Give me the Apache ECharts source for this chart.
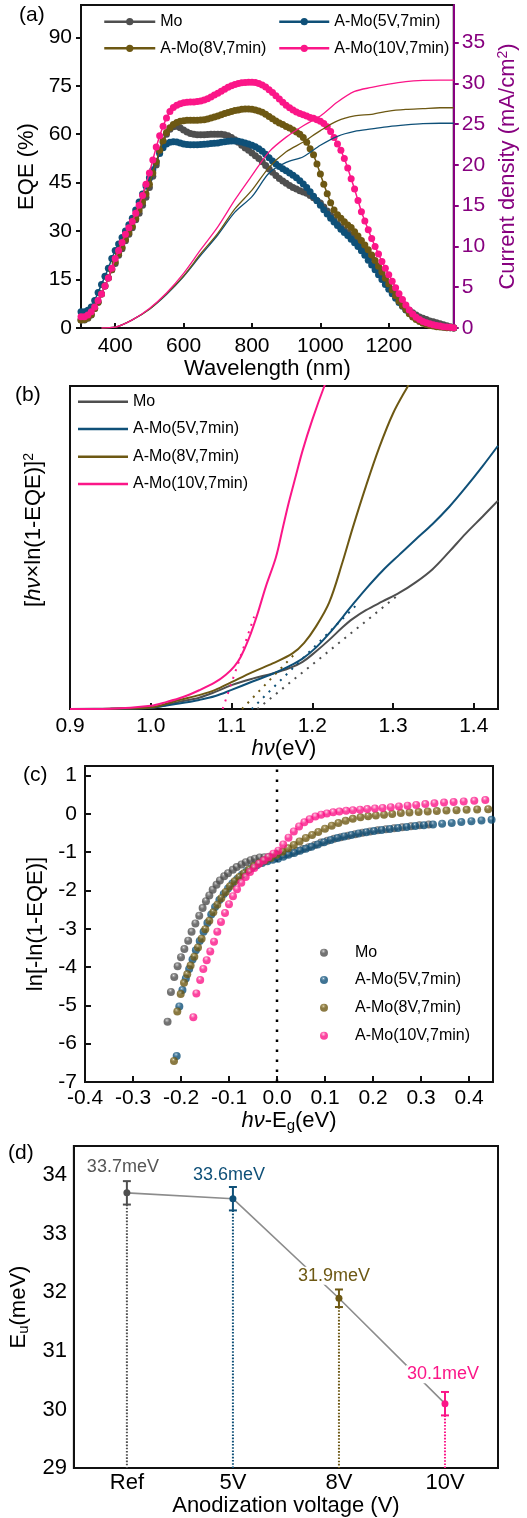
<!DOCTYPE html>
<html>
<head>
<meta charset="utf-8">
<script src="https://cdn.jsdelivr.net/npm/echarts@6/dist/echarts.min.js"></script>
<style>
  html, body { margin: 0; padding: 0; background: #ffffff; }
  #chart { width: 527px; height: 1518px; }
</style>
</head>
<body>
<div id="chart"></div>
<script>
// ---------- shared ----------
const FONT = '"Liberation Sans", Arial, Helvetica, sans-serif';
const sampleNames = ['Mo', 'A-Mo(5V,7min)', 'A-Mo(8V,7min)', 'A-Mo(10V,7min)'];
const sampleColors = ['#4f4f4f', '#0f5078', '#6d5813', '#fb1688'];
const ballHighlights = ['#9a9a9a', '#5f90b0', '#a89454', '#ff8cc4'];
const PURPLE = '#87017f';

// ---------- (a) EQE and integrated current density ----------
const wavelength = [
  300, 310, 320, 330, 340, 350, 360, 370, 380, 390,
  400, 410, 420, 430, 440, 450, 460, 470, 480, 490,
  500, 510, 520, 530, 540, 550, 560, 570, 580, 590,
  600, 610, 620, 630, 640, 650, 660, 670, 680, 690,
  700, 710, 720, 730, 740, 750, 760, 770, 780, 790,
  800, 810, 820, 830, 840, 850, 860, 870, 880, 890,
  900, 910, 920, 930, 940, 950, 960, 970, 980, 990,
  1000, 1010, 1020, 1030, 1040, 1050, 1060, 1070, 1080, 1090,
  1100, 1110, 1120, 1130, 1140, 1150, 1160, 1170, 1180, 1190,
  1200, 1210, 1220, 1230, 1240, 1250, 1260, 1270, 1280, 1290,
  1300, 1310, 1320, 1330, 1340, 1350, 1360, 1370, 1380, 1390
];
const eqeMo = [
  2.5, 2.5, 3.0, 4.0, 6.0, 8.0, 10.5, 13.0, 15.5, 18.0,
  20.0, 22.5, 24.5, 27.0, 29.0, 31.0, 33.5, 35.5, 38.0, 40.5,
  43.5, 47.0, 50.5, 54.5, 57.5, 60.0, 61.5, 62.3, 62.5, 62.0,
  61.3, 60.7, 60.2, 60.0, 59.8, 59.8, 59.8, 59.9, 60.0, 60.0,
  60.0, 60.0, 59.8, 59.5, 59.0, 58.3, 57.5, 56.6, 55.7, 55.0,
  54.2, 53.3, 52.5, 51.5, 50.3, 49.2, 48.2, 47.2, 46.3, 45.5,
  44.8, 44.1, 43.5, 43.0, 42.5, 42.1, 41.7, 41.0, 40.3, 39.5,
  38.7, 37.5, 36.2, 34.8, 33.4, 32.2, 31.2, 30.3, 29.5, 28.7,
  27.9, 26.9, 25.8, 24.5, 23.1, 21.6, 20.0, 18.4, 16.8, 15.2,
  13.6, 12.0, 10.5, 9.0, 7.7, 6.5, 5.5, 4.7, 4.0, 3.4,
  3.0, 2.6, 2.2, 1.9, 1.6, 1.3, 1.0, 0.7, 0.4, 0.1
];
const eqe5V = [
  5.0, 5.0, 5.5, 6.5, 8.5, 11.0, 13.5, 16.0, 18.5, 21.5,
  24.0, 26.0, 28.0, 30.0, 32.0, 34.0, 36.5, 39.0, 41.5, 44.0,
  46.5, 49.0, 51.5, 54.0, 55.8, 57.0, 57.5, 57.7, 57.6, 57.3,
  57.0, 56.8, 56.7, 56.7, 56.7, 56.8, 56.9, 57.0, 57.1, 57.2,
  57.3, 57.5, 57.7, 57.8, 57.9, 57.9, 57.8, 57.6, 57.3, 57.0,
  56.6, 56.1, 55.5, 54.7, 53.8, 52.7, 51.7, 50.8, 50.0, 49.3,
  48.7, 48.0, 47.3, 46.5, 45.6, 44.6, 43.5, 42.2, 40.8, 39.4,
  38.0, 36.6, 35.3, 34.0, 32.8, 31.7, 30.6, 29.6, 28.6, 27.5,
  26.4, 25.2, 23.9, 22.5, 21.0, 19.5, 18.0, 16.5, 15.0, 13.5,
  12.0, 10.6, 9.2, 7.9, 6.7, 5.6, 4.7, 3.8, 3.0, 2.4,
  1.9, 1.5, 1.2, 0.9, 0.7, 0.5, 0.3, 0.2, 0.1, 0.0
];
const eqe8V = [
  2.5, 2.6, 3.2, 4.2, 6.0, 8.0, 10.5, 13.0, 15.5, 18.0,
  20.5, 23.0, 25.0, 27.5, 29.5, 31.5, 34.0, 36.5, 39.0, 41.5,
  44.5, 48.0, 51.5, 55.0, 58.0, 60.5, 62.0, 63.0, 63.6, 64.0,
  64.2, 64.3, 64.3, 64.3, 64.3, 64.4, 64.5, 64.7, 65.0, 65.3,
  65.6, 66.0, 66.4, 66.7, 67.0, 67.3, 67.5, 67.7, 67.8, 67.8,
  67.7, 67.5, 67.2, 66.8, 66.2, 65.5, 64.8, 64.1, 63.5, 63.0,
  62.4, 61.9, 61.3, 60.7, 60.0, 59.0, 57.5, 55.5, 53.6, 50.8,
  47.7, 44.5, 41.6, 38.8, 36.5, 35.1, 34.0, 32.9, 31.9, 31.1,
  29.8, 28.5, 27.1, 25.7, 24.2, 22.6, 20.9, 19.1, 17.3, 15.4,
  13.6, 11.8, 10.0, 8.3, 7.0, 5.7, 4.4, 3.4, 2.6, 2.0,
  1.5, 1.1, 0.8, 0.6, 0.4, 0.3, 0.2, 0.1, 0.1, 0.0
];
const eqe10V = [
  3.5, 3.5, 4.0, 5.0, 6.5, 8.5, 10.5, 13.0, 15.5, 18.5,
  21.5, 24.0, 26.5, 29.0, 31.0, 33.0, 35.5, 38.0, 41.0, 44.5,
  48.0, 52.0, 56.0, 59.5, 62.5, 65.0, 67.0, 68.3, 69.0, 69.4,
  69.7, 69.9, 70.0, 70.0, 70.1, 70.3, 70.6, 71.0, 71.5, 72.1,
  72.7, 73.3, 73.9, 74.5, 75.0, 75.4, 75.7, 75.9, 76.0, 76.1,
  76.1, 76.0, 75.7, 75.2, 74.6, 73.8, 72.9, 71.9, 70.9, 69.9,
  69.0, 68.2, 67.5, 66.9, 66.4, 66.0, 65.6, 65.2, 64.9, 64.5,
  64.0, 63.3, 62.3, 60.8, 59.0, 57.0, 55.0, 52.5, 49.5, 46.2,
  43.0, 39.5, 36.0, 33.1, 30.4, 27.7, 25.2, 22.9, 20.6, 18.5,
  16.5, 14.5, 12.5, 10.6, 8.8, 7.1, 5.6, 4.3, 3.3, 2.6,
  2.0, 1.6, 1.3, 1.0, 0.8, 0.6, 0.4, 0.3, 0.2, 0.1
];
const jscWavelength = [360, 400, 450, 500, 550, 600, 650, 700, 750, 800, 850, 900, 950, 1000, 1050, 1100, 1150, 1200, 1250, 1300, 1350, 1390];
const jsc5V  = [0, 0.1, 1.0, 2.3, 4.1, 6.3, 8.9, 11.4, 14.2, 16.1, 19.0, 20.3, 21.0, 22.4, 23.5, 24.1, 24.4, 24.7, 24.9, 25.05, 25.1, 25.1];
const jsc8V  = [0, 0.1, 1.0, 2.3, 4.2, 6.4, 9.1, 11.6, 14.6, 16.9, 19.7, 21.6, 22.8, 24.2, 25.4, 26.0, 26.2, 26.6, 26.8, 26.9, 27.0, 27.0];
const jsc10V = [0, 0.1, 1.0, 2.4, 4.3, 6.7, 9.6, 12.4, 15.7, 18.7, 21.6, 23.4, 24.8, 26.0, 27.7, 29.0, 29.5, 29.9, 30.2, 30.35, 30.4, 30.4];
const wavelengthTicks = [400, 600, 800, 1000, 1200];
const eqeTicks = [0, 15, 30, 45, 60, 75, 90];
const jscTicks = [0, 5, 10, 15, 20, 25, 30, 35];

// ---------- (b) [hv ln(1-EQE)]^2 versus photon energy ----------
const taucMo = [[0.90, 0], [0.95, 0.1], [1.00, 0.4], [1.035, 2.2], [1.06, 3.5], [1.08, 5.3], [1.10, 7.4], [1.126, 9.4], [1.151, 11.0], [1.171, 12.6], [1.188, 14.6], [1.2045, 17.8], [1.221, 21.4], [1.2375, 25.3], [1.25, 27.9], [1.2665, 30.6], [1.287, 33.3], [1.308, 36.0], [1.328, 39.2], [1.349, 43.3], [1.37, 48.8], [1.39, 54.3], [1.411, 59.6], [1.43, 64.5]];
const tauc5V = [[0.90, 0], [0.95, 0.05], [1.00, 0.4], [1.035, 1.7], [1.06, 2.8], [1.08, 4.0], [1.10, 5.9], [1.126, 8.5], [1.151, 10.9], [1.171, 13.2], [1.188, 15.6], [1.2045, 19.0], [1.221, 23.4], [1.2375, 28.4], [1.25, 32.3], [1.2665, 37.2], [1.287, 42.8], [1.308, 47.8], [1.328, 52.5], [1.349, 57.3], [1.37, 62.7], [1.39, 68.6], [1.411, 75.2], [1.43, 81.5]];
const tauc8V = [[0.90, 0], [0.95, 0.1], [1.00, 0.5], [1.035, 2.8], [1.06, 4.3], [1.08, 5.9], [1.10, 8.3], [1.126, 11.4], [1.151, 14.1], [1.1755, 17.2], [1.19, 20.5], [1.2045, 25.5], [1.221, 33.0], [1.2375, 45.5], [1.25, 56.0], [1.2665, 69.0], [1.283, 81.0], [1.30, 91.5], [1.318, 99.8], [1.33, 105]];
const tauc10V = [[0.90, 0], [0.95, 0.1], [1.00, 1.0], [1.02, 2.2], [1.04, 3.7], [1.06, 5.8], [1.08, 8.3], [1.093, 10.6], [1.1035, 13.2], [1.1115, 16.2], [1.1218, 22.0], [1.132, 29.3], [1.1425, 37.9], [1.155, 47.0], [1.163, 55.5], [1.171, 64.0], [1.18, 72.5], [1.188, 80.0], [1.20, 89.5], [1.215, 100], [1.225, 106]];
const tangentMo = [[1.132, 0], [1.305, 35.0]];
const tangent5V = [[1.125, 0], [1.258, 33.0]];
const tangent8V = [[1.113, 0], [1.180, 17.5]];
const tangent10V = [[1.089, 0], [1.128, 28.6]];
const photonTicks = [0.9, 1.0, 1.1, 1.2, 1.3, 1.4];

// ---------- (c) ln[-ln(1-EQE)] versus hv - Eg ----------
const urbachMo = [[-0.228, -5.43], [-0.221, -4.65], [-0.214, -4.26], [-0.207, -3.98], [-0.200, -3.74], [-0.193, -3.53], [-0.185, -3.31], [-0.178, -3.08], [-0.170, -2.86], [-0.162, -2.66], [-0.155, -2.46], [-0.148, -2.28], [-0.141, -2.13], [-0.134, -1.98], [-0.126, -1.85], [-0.119, -1.74], [-0.110, -1.63], [-0.102, -1.55], [-0.092, -1.46], [-0.084, -1.39], [-0.074, -1.32], [-0.065, -1.26], [-0.055, -1.21], [-0.046, -1.17], [-0.036, -1.14], [-0.026, -1.13], [-0.016, -1.12], [-0.006, -1.11], [0.005, -1.10], [0.018, -1.06], [0.030, -1.02], [0.042, -0.97], [0.054, -0.92], [0.066, -0.87], [0.079, -0.81], [0.092, -0.75], [0.105, -0.70], [0.119, -0.65], [0.133, -0.61], [0.148, -0.57], [0.163, -0.53], [0.178, -0.49], [0.194, -0.46], [0.210, -0.43], [0.227, -0.40], [0.244, -0.375], [0.261, -0.35], [0.279, -0.325], [0.297, -0.30], [0.316, -0.28]];
const urbach5V = [[-0.209, -6.32], [-0.2035, -5.03], [-0.197, -4.60], [-0.190, -4.30], [-0.183, -4.05], [-0.176, -3.80], [-0.169, -3.56], [-0.161, -3.32], [-0.153, -3.08], [-0.145, -2.85], [-0.137, -2.63], [-0.129, -2.43], [-0.120, -2.25], [-0.111, -2.09], [-0.102, -1.95], [-0.093, -1.82], [-0.083, -1.70], [-0.073, -1.59], [-0.063, -1.49], [-0.053, -1.41], [-0.042, -1.34], [-0.031, -1.28], [-0.020, -1.24], [-0.009, -1.20], [0.002, -1.17], [0.013, -1.12], [0.024, -1.07], [0.036, -1.02], [0.048, -0.96], [0.060, -0.91], [0.072, -0.86], [0.085, -0.80], [0.098, -0.74], [0.112, -0.68], [0.126, -0.63], [0.140, -0.59], [0.155, -0.55], [0.170, -0.51], [0.186, -0.48], [0.202, -0.45], [0.218, -0.42], [0.235, -0.395], [0.252, -0.37], [0.270, -0.34], [0.288, -0.315], [0.306, -0.295], [0.325, -0.28], [0.344, -0.26], [0.364, -0.235], [0.384, -0.21], [0.405, -0.19], [0.426, -0.175], [0.447, -0.155]];
const urbach8V = [[-0.2146, -6.45], [-0.2077, -5.16], [-0.2006, -4.70], [-0.1937, -4.41], [-0.187, -4.19], [-0.180, -3.96], [-0.1723, -3.73], [-0.1646, -3.49], [-0.157, -3.26], [-0.1494, -3.01], [-0.141, -2.79], [-0.1327, -2.57], [-0.1244, -2.37], [-0.116, -2.20], [-0.1069, -2.04], [-0.0979, -1.89], [-0.0881, -1.76], [-0.0785, -1.65], [-0.0688, -1.55], [-0.0583, -1.45], [-0.0479, -1.36], [-0.0369, -1.29], [-0.025, -1.22], [-0.0131, -1.15], [-0.001, -1.07], [0.011, -0.99], [0.023, -0.90], [0.035, -0.81], [0.047, -0.72], [0.060, -0.63], [0.073, -0.55], [0.086, -0.47], [0.100, -0.39], [0.114, -0.31], [0.128, -0.24], [0.143, -0.18], [0.158, -0.13], [0.174, -0.09], [0.190, -0.06], [0.206, -0.04], [0.223, -0.02], [0.240, 0.0], [0.258, 0.02], [0.276, 0.035], [0.295, 0.05], [0.314, 0.06], [0.333, 0.075], [0.353, 0.085], [0.374, 0.095], [0.395, 0.105], [0.417, 0.112], [0.440, 0.12]];
const urbach10V = [[-0.1743, -5.31], [-0.168, -4.69], [-0.160, -4.34], [-0.1535, -4.05], [-0.1465, -3.82], [-0.139, -3.59], [-0.1312, -3.34], [-0.1244, -3.08], [-0.1167, -2.82], [-0.1083, -2.59], [-0.100, -2.36], [-0.0917, -2.15], [-0.0833, -1.97], [-0.0744, -1.80], [-0.0652, -1.65], [-0.0563, -1.52], [-0.0473, -1.41], [-0.0375, -1.30], [-0.0277, -1.22], [-0.0181, -1.13], [-0.0077, -1.04], [0.0027, -0.96], [0.013, -0.80], [0.024, -0.62], [0.035, -0.46], [0.046, -0.33], [0.057, -0.22], [0.068, -0.14], [0.080, -0.07], [0.092, -0.02], [0.104, 0.01], [0.117, 0.04], [0.130, 0.06], [0.144, 0.08], [0.158, 0.095], [0.173, 0.11], [0.188, 0.125], [0.204, 0.14], [0.220, 0.155], [0.237, 0.175], [0.254, 0.195], [0.272, 0.215], [0.290, 0.235], [0.309, 0.255], [0.328, 0.275], [0.348, 0.295], [0.368, 0.31], [0.389, 0.325], [0.411, 0.34], [0.434, 0.36]];
const energyOffsetTicks = [-0.4, -0.3, -0.2, -0.1, 0, 0.1, 0.2, 0.3, 0.4];
const lnTicks = [-7, -6, -5, -4, -3, -2, -1, 0, 1];

// ---------- (d) Urbach energy versus anodization voltage ----------
const voltages = ['Ref', '5V', '8V', '10V'];
const urbachEnergy = [33.7, 33.6, 31.9, 30.1];
const urbachError = [0.2, 0.2, 0.15, 0.2];
const urbachTicks = [29, 30, 31, 32, 33, 34];

// ---------- helpers ----------
const pairs = (xs, ys) => xs.map((x, i) => [x, ys[i]]);
const txt = (size, extra) => Object.assign({ fontSize: size, color: '#000', fontFamily: FONT }, extra || {});
const frameLine = { show: true, onZero: false, lineStyle: { color: '#111', width: 2 } };
const tickStyle = { color: '#111', width: 2 };
const ball = (i) => ({
  type: 'radial', x: 0.42, y: 0.3, r: 0.7,
  colorStops: [
    { offset: 0, color: '#f4f4f4' },
    { offset: 0.12, color: ballHighlights[i] },
    { offset: 0.45, color: sampleColors[i] },
    { offset: 1, color: sampleColors[i] }
  ]
});
const stripPrefix = (name) => name.slice(name.indexOf('|') + 1);

const chart = echarts.init(document.getElementById('chart'), null, { renderer: 'canvas' });

const grids = [
  { left: 81, top: 5, width: 386, height: 323 },
  { left: 70, top: 386, width: 428, height: 323 },
  { left: 85, top: 766, width: 408, height: 316 },
  { left: 70, top: 1146, width: 428, height: 323 }
].map(g => Object.assign(g, { show: true, borderColor: '#111', borderWidth: 2, containLabel: false }));

const xAxes = [
  {
    gridIndex: 0, type: 'value', min: 300, max: 1390,
    axisLine: frameLine,
    axisTick: { show: true, inside: true, length: 5, lineStyle: tickStyle, customValues: wavelengthTicks },
    axisLabel: txt(21, { margin: 8, customValues: wavelengthTicks, formatter: v => String(v) }),
    splitLine: { show: false },
    name: 'Wavelength (nm)', nameLocation: 'middle', nameGap: 26, nameTextStyle: txt(22)
  },
  {
    gridIndex: 1, type: 'value', min: 0.9, max: 1.43,
    axisLine: frameLine,
    axisTick: { show: true, inside: true, length: 6, lineStyle: tickStyle, customValues: [1.0, 1.1, 1.2, 1.3, 1.4] },
    axisLabel: txt(21, { margin: 7, customValues: photonTicks, formatter: v => v.toFixed(1) }),
    splitLine: { show: false },
    name: '{i|hν}(eV)', nameLocation: 'middle', nameGap: 28,
    nameTextStyle: txt(22, { rich: { i: txt(22, { fontStyle: 'italic' }) } })
  },
  {
    gridIndex: 2, type: 'value', min: -0.4, max: 0.45,
    axisLine: frameLine,
    axisTick: { show: true, inside: true, length: 6, lineStyle: tickStyle, customValues: energyOffsetTicks },
    axisLabel: txt(21, { margin: 6, customValues: energyOffsetTicks, formatter: v => v.toFixed(1) }),
    splitLine: { show: false },
    name: '{i|hν}-E{sub|g}(eV)', nameLocation: 'middle', nameGap: 25,
    nameTextStyle: txt(22, { rich: { i: txt(22, { fontStyle: 'italic' }), sub: txt(15, { padding: [10, 0, 0, 0] }) } })
  },
  {
    gridIndex: 3, type: 'category', data: voltages, boundaryGap: true,
    axisLine: frameLine,
    axisTick: { show: false },
    axisLabel: txt(22, { margin: 4 }),
    splitLine: { show: false },
    name: 'Anodization voltage (V)', nameLocation: 'middle', nameGap: 24, nameTextStyle: txt(22)
  }
];

const yAxes = [
  {
    gridIndex: 0, type: 'value', min: 0, max: 100, position: 'left',
    axisLine: frameLine,
    axisTick: { show: true, inside: false, length: 5, lineStyle: tickStyle, customValues: eqeTicks },
    axisLabel: txt(21, { margin: 9, customValues: eqeTicks }),
    splitLine: { show: false },
    name: 'EQE (%)', nameLocation: 'middle', nameGap: 37, nameRotate: 90, nameTextStyle: txt(22)
  },
  {
    gridIndex: 0, type: 'value', min: 0, max: 39.6, position: 'right',
    axisLine: { show: true, onZero: false, lineStyle: { color: PURPLE, width: 2 } },
    axisTick: { show: true, inside: false, length: 5, lineStyle: { color: PURPLE, width: 2 }, customValues: jscTicks },
    axisLabel: txt(21, { margin: 8, color: PURPLE, customValues: jscTicks }),
    splitLine: { show: false },
    name: 'Current density (mA/cm{sup|2})', nameLocation: 'middle', nameGap: 32, nameRotate: 90,
    nameTextStyle: txt(22, { color: PURPLE, rich: { sup: txt(14, { color: PURPLE, padding: [0, 0, 10, 0] }) } })
  },
  {
    gridIndex: 1, type: 'value', min: 0, max: 100,
    axisLine: frameLine, axisTick: { show: false }, axisLabel: { show: false }, splitLine: { show: false },
    name: '[{i|hν}×ln(1-EQE)]{sup|2}', nameLocation: 'middle', nameGap: 24, nameRotate: 90,
    nameTextStyle: txt(22, { padding: [0, 0, 0, 35], rich: { i: txt(22, { fontStyle: 'italic' }), sup: txt(14, { padding: [0, 0, 10, 0] }) } })
  },
  {
    gridIndex: 2, type: 'value', min: -7, max: 1.25,
    axisLine: frameLine,
    axisTick: { show: true, inside: true, length: 6, lineStyle: tickStyle, customValues: lnTicks },
    axisLabel: txt(21, { margin: 8, customValues: lnTicks }),
    splitLine: { show: false },
    name: 'ln[-ln(1-EQE)]', nameLocation: 'middle', nameGap: 31, nameRotate: 90, nameTextStyle: txt(22)
  },
  {
    gridIndex: 3, type: 'value', min: 29, max: 34.5,
    axisLine: frameLine, axisTick: { show: false },
    axisLabel: txt(22, { margin: 7, customValues: urbachTicks }),
    splitLine: { show: false },
    name: 'E{sub|u}(meV)', nameLocation: 'middle', nameGap: 34, nameRotate: 90,
    nameTextStyle: txt(22, { rich: { sub: txt(15, { padding: [10, 0, 0, 0] }) } })
  }
];

const series = [];

// (a) EQE curves with dense markers
const eqeSets = [eqeMo, eqe5V, eqe8V, eqe10V];
eqeSets.forEach((vals, i) => {
  series.push({
    name: 'a|' + sampleNames[i], type: 'line', xAxisIndex: 0, yAxisIndex: 0,
    data: pairs(wavelength, vals),
    symbol: 'circle', symbolSize: 7, showSymbol: true,
    itemStyle: { color: sampleColors[i] },
    lineStyle: { color: sampleColors[i], width: 1.5 },
    z: 2 + i
  });
});
// (a) integrated current density (right axis)
[[jsc5V, 1], [jsc8V, 2], [jsc10V, 3]].forEach(([vals, i]) => {
  series.push({
    name: 'aj|' + sampleNames[i], type: 'line', xAxisIndex: 0, yAxisIndex: 1,
    data: pairs(jscWavelength, vals), smooth: 0.3, showSymbol: false, symbol: 'none',
    lineStyle: { color: sampleColors[i], width: 1.3 }, z: 7
  });
});

// (b) curves and linear extrapolations
[taucMo, tauc5V, tauc8V, tauc10V].forEach((pts, i) => {
  series.push({
    name: 'b|' + sampleNames[i], type: 'line', xAxisIndex: 1, yAxisIndex: 2,
    data: pts, smooth: 0.35, showSymbol: false, symbol: 'none',
    itemStyle: { color: sampleColors[i] },
    lineStyle: { color: sampleColors[i], width: 2 }, z: 3
  });
});
[tangentMo, tangent5V, tangent8V, tangent10V].forEach((pts, i) => {
  series.push({
    name: 'bt|' + sampleNames[i], type: 'line', xAxisIndex: 1, yAxisIndex: 2,
    data: pts, showSymbol: false, symbol: 'none',
    lineStyle: { color: sampleColors[i], width: 2, type: [2, 6] }, z: 4
  });
});

// (c) Urbach tail points
series.push({
  name: 'c0|zero', type: 'line', xAxisIndex: 2, yAxisIndex: 3,
  data: [[0, -7], [0, 1.25]], showSymbol: false, symbol: 'none',
  lineStyle: { color: '#000', width: 2.5, type: [2.5, 7.5] }, z: 1
});
[urbachMo, urbach5V, urbach8V, urbach10V].forEach((pts, i) => {
  series.push({
    name: 'c|' + sampleNames[i], type: 'scatter', xAxisIndex: 2, yAxisIndex: 3,
    data: pts, symbol: 'circle', symbolSize: 8,
    itemStyle: { color: ball(i) }, z: 2 + i
  });
});

// (d) Urbach energy: drop lines, error bars, connecting line with labels
const labelPlacement = [
  { distance: 13, offset: [-4, 0] },
  { distance: 11, offset: [-4, 0] },
  { distance: 10, offset: [-5, 0] },
  { distance: 17, offset: [-2, 0] }
];
series.push({
  name: 'd|drop', type: 'custom', xAxisIndex: 3, yAxisIndex: 4,
  data: urbachEnergy.map((v, i) => [i, v - urbachError[i]]),
  encode: { x: 0, y: 1 },
  renderItem: (params, api) => {
    const top = api.coord([api.value(0), api.value(1)]);
    const bottom = api.coord([api.value(0), 29]);
    return {
      type: 'line',
      shape: { x1: top[0], y1: top[1], x2: bottom[0], y2: bottom[1] },
      style: { stroke: sampleColors[params.dataIndex], lineWidth: 2, lineDash: [1.6, 1.6] }
    };
  },
  z: 1
});
series.push({
  name: 'd|Eu', type: 'line', xAxisIndex: 3, yAxisIndex: 4,
  data: urbachEnergy.map((v, i) => ({
    value: v,
    itemStyle: { color: sampleColors[i] },
    label: Object.assign({ color: i === 0 ? '#555555' : sampleColors[i] }, labelPlacement[i])
  })),
  symbol: 'circle', symbolSize: 7,
  lineStyle: { color: '#8c8c8c', width: 1.6 },
  label: {
    show: true, position: 'top', fontSize: 18, fontFamily: FONT,
    backgroundColor: '#ffffff', padding: [0, 1],
    formatter: p => p.value + 'meV'
  },
  z: 2
});
series.push({
  name: 'd|err', type: 'custom', xAxisIndex: 3, yAxisIndex: 4,
  data: urbachEnergy.map((v, i) => [i, v - urbachError[i], v + urbachError[i]]),
  encode: { x: 0, y: [1, 2] },
  renderItem: (params, api) => {
    const lo = api.coord([api.value(0), api.value(1)]);
    const hi = api.coord([api.value(0), api.value(2)]);
    const c = sampleColors[params.dataIndex];
    const hw = 4;
    const st = { stroke: c, lineWidth: 2 };
    return {
      type: 'group',
      children: [
        { type: 'line', shape: { x1: lo[0], y1: lo[1], x2: hi[0], y2: hi[1] }, style: st },
        { type: 'line', shape: { x1: lo[0] - hw, y1: lo[1], x2: lo[0] + hw, y2: lo[1] }, style: st },
        { type: 'line', shape: { x1: hi[0] - hw, y1: hi[1], x2: hi[0] + hw, y2: hi[1] }, style: st }
      ]
    };
  },
  z: 3
});

// legends, one per entry so each sits where it belongs
const legends = [];
const legendText = txt(16);
[[0, 103, 13.7, 51], [1, 278, 13.7, 50], [2, 103, 40.3, 51], [3, 278, 40.3, 50]].forEach(([i, left, top, w]) => {
  legends.push({
    data: ['a|' + sampleNames[i]], left, top, padding: 0, itemWidth: w, itemHeight: 9,
    formatter: stripPrefix, textStyle: legendText, lineStyle: { width: 2.5 }, selectedMode: false
  });
});
[393.7, 421, 448.7, 476].forEach((top, i) => {
  legends.push({
    data: [{ name: 'b|' + sampleNames[i], icon: 'rect' }], left: 78, top, padding: 0,
    itemWidth: 50, itemHeight: 2.5, formatter: stripPrefix, textStyle: legendText, selectedMode: false
  });
});
[944.7, 972, 999.7, 1027.7].forEach((top, i) => {
  legends.push({
    data: [{ name: 'c|' + sampleNames[i], icon: 'circle' }], left: 320, top, padding: 0,
    itemWidth: 8, itemHeight: 8, formatter: stripPrefix,
    textStyle: txt(16, { padding: [0, 0, 0, 22] }), selectedMode: false
  });
});

const panelLabel = (text, x, y) => ({
  type: 'text', x, y,
  style: { text, fontSize: 21, fontFamily: FONT, fill: '#000', verticalAlign: 'middle' }
});

chart.setOption({
  animation: false,
  backgroundColor: '#ffffff',
  textStyle: { fontFamily: FONT },
  grid: grids,
  xAxis: xAxes,
  yAxis: yAxes,
  legend: legends,
  series,
  graphic: [
    panelLabel('(a)', 19, 15),
    panelLabel('(b)', 15, 395),
    panelLabel('(c)', 23, 775),
    panelLabel('(d)', 8, 1153)
  ]
});
</script>
</body>
</html>
